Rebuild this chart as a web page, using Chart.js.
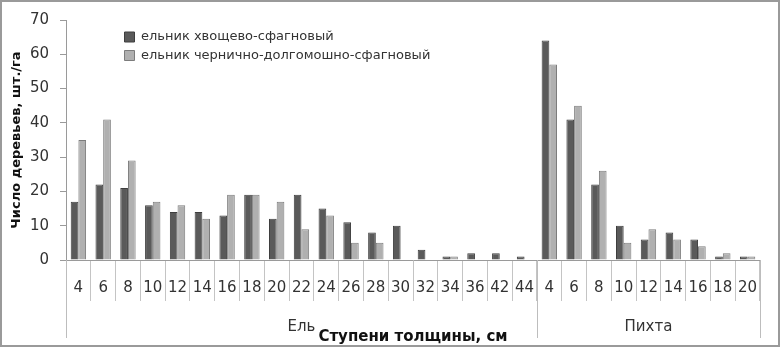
<!DOCTYPE html>
<html>
<head>
<meta charset="utf-8">
<script src="https://cdn.jsdelivr.net/npm/chart.js@4"></script>
<style>
  html, body { margin: 0; padding: 0; background: #fff; }
</style>
</head>
<body>
<canvas id="myChart" width="780" height="347"></canvas>
<script>
// ступени толщины: 19 для ели, 9 для пихты
const categories = [
  "4", "6", "8", "10", "12", "14", "16", "18", "20", "22",
  "24", "26", "28", "30", "32", "34", "36", "42", "44",
  "4", "6", "8", "10", "12", "14", "16", "18", "20"
];
const groupNames = ["Ель", "Пихта"];
const groupSizes = [19, 9];

const seriesNames = ["ельник хвощево-сфагновый", "ельник чернично-долгомошно-сфагновый"];
const horsetailSpruce = [
  17, 22, 21, 16, 14, 14, 13, 19, 12, 19, 15, 11, 8, 10, 3, 1, 2, 2, 1,
  64, 41, 22, 10, 6, 8, 6, 1, 1
];
const blueberrySpruce = [
  35, 41, 29, 17, 16, 12, 19, 19, 17, 9, 13, 5, 5, 0, 0, 1, 0, 0, 0,
  57, 45, 26, 5, 9, 6, 4, 2, 1
];
const yTicks = [0, 10, 20, 30, 40, 50, 60, 70];

const fontFamily = "DejaVu Sans";
const textColor = "#333333";

// рамка и белый фон
const framePlugin = {
  id: "frame",
  beforeDraw(chart) {
    const ctx = chart.ctx;
    ctx.save();
    ctx.fillStyle = "#ffffff";
    ctx.fillRect(0, 0, chart.width, chart.height);
    ctx.restore();
  },
  afterDraw(chart) {
    const ctx = chart.ctx;
    ctx.save();
    ctx.strokeStyle = "#9a9a9a";
    ctx.lineWidth = 2;
    ctx.strokeRect(1, 1, chart.width - 2, chart.height - 2);
    ctx.restore();
  }
};

// легенда внутри области графика, чуть правее оси
const legendShift = {
  id: "legendShift",
  afterLayout(chart) {
    const lg = chart.legend;
    const ca = chart.chartArea;
    const w = lg.width, h = lg.height;
    lg.left = ca.left + 53;
    lg.top = ca.top + 5;
    lg.right = lg.left + w;
    lg.bottom = lg.top + h;
  }
};

// подписи групп (Ель / Пихта) и длинные разделители
const groupAxis = {
  id: "groupAxis",
  afterDraw(chart) {
    const x = chart.scales.x;
    const ctx = chart.ctx;
    const half = (x.getPixelForValue(1) - x.getPixelForValue(0)) / 2;
    const top = x.top;
    ctx.save();
    ctx.strokeStyle = "#bdbdbd";
    ctx.lineWidth = 1;
    ctx.fillStyle = textColor;
    ctx.font = "15px " + fontFamily;
    ctx.textAlign = "center";
    ctx.textBaseline = "middle";
    let start = 0;
    const drawSep = (px) => {
      ctx.beginPath();
      ctx.moveTo(Math.round(px) + 0.5, top);
      ctx.lineTo(Math.round(px) + 0.5, top + 78);
      ctx.stroke();
    };
    drawSep(x.getPixelForValue(0) - half);
    groupNames.forEach((name, i) => {
      const end = start + groupSizes[i] - 1;
      const left = x.getPixelForValue(start) - half;
      const right = x.getPixelForValue(end) + half;
      drawSep(right);
      ctx.fillText(name, (left + right) / 2, top + 67);
      start = end + 1;
    });
    ctx.restore();
  }
};

const ctx = document.getElementById("myChart");
new Chart(ctx, {
  type: "bar",
  data: {
    labels: categories,
    datasets: [
      {
        label: seriesNames[0],
        data: horsetailSpruce,
        backgroundColor: "#5a5a5a",
        borderColor: "#3e3e3e",
        borderWidth: 1
      },
      {
        label: seriesNames[1],
        data: blueberrySpruce,
        backgroundColor: "#b0b0b0",
        borderColor: "#7c7c7c",
        borderWidth: 1
      }
    ]
  },
  options: {
    responsive: false,
    animation: false,
    layout: { padding: { top: 17, right: 20, bottom: 0, left: 0 } },
    datasets: {
      bar: { categoryPercentage: 0.62, barPercentage: 1.0 }
    },
    scales: {
      x: {
        afterFit(scale) { scale.height = 87; },
        grid: {
          offset: true,
          drawOnChartArea: false,
          tickLength: 41,
          color: "#c4c4c4"
        },
        border: { color: "#9a9a9a" },
        ticks: {
          autoSkip: false,
          maxRotation: 0,
          padding: -22,
          color: textColor,
          font: { family: fontFamily, size: 15 }
        },
        title: {
          display: true,
          text: "Ступени толщины, см",
          color: "#111111",
          font: { family: fontFamily, size: 15, weight: "bold" },
          padding: { top: 0, bottom: 1 }
        }
      },
      y: {
        min: 0,
        max: 70,
        afterFit(scale) { scale.width = 66; },
        afterBuildTicks(scale) {
          scale.ticks = yTicks.map((v) => ({ value: v }));
        },
        grid: {
          drawOnChartArea: false,
          tickLength: 6,
          color: "#9a9a9a"
        },
        border: { color: "#9a9a9a" },
        ticks: {
          padding: 11,
          color: textColor,
          font: { family: fontFamily, size: 15 }
        },
        title: {
          display: true,
          text: "Число деревьев, шт./га",
          color: "#111111",
          font: { family: fontFamily, size: 13, weight: "bold" },
          padding: { top: 9, bottom: 0 }
        }
      }
    },
    plugins: {
      legend: {
        position: "chartArea",
        align: "start",
        labels: {
          boxWidth: 10,
          boxHeight: 10,
          padding: 5.5,
          color: textColor,
          font: { family: fontFamily, size: 13 }
        }
      },
      tooltip: { enabled: false }
    }
  },
  plugins: [framePlugin, legendShift, groupAxis]
});
</script>
</body>
</html>
